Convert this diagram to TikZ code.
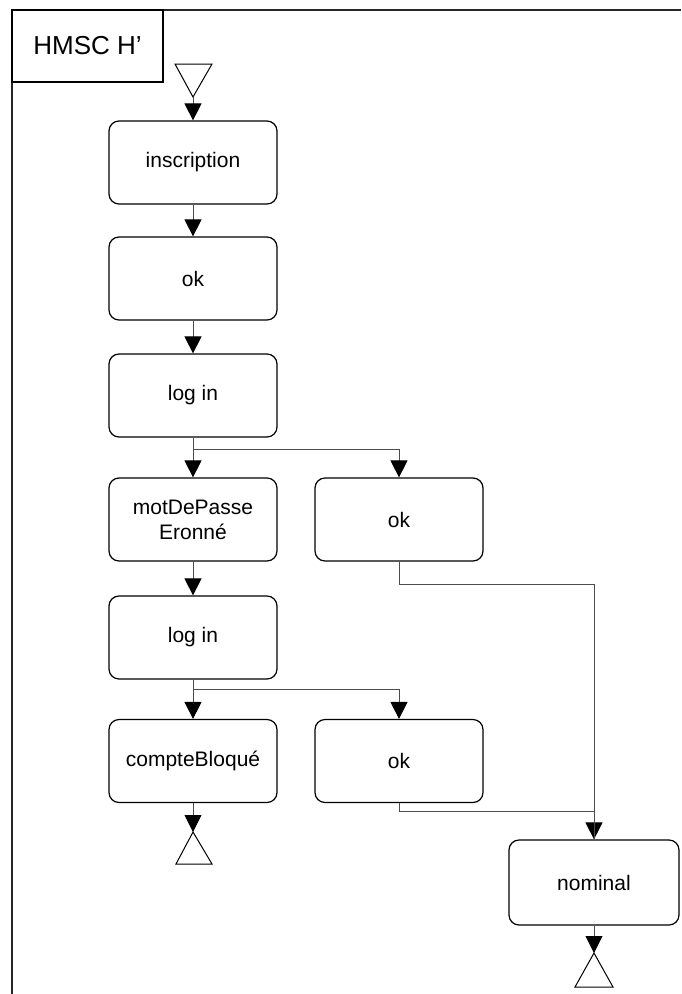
\documentclass[tikz,border=0pt]{standalone}
\usepackage{fontspec}
\setmainfont{Liberation Sans}
\usetikzlibrary{arrows.meta}

\tikzset{
  msc/.style={draw=black, line width=1.2pt, rounded corners=10pt, minimum width=168pt, minimum height=83pt, align=center, font=\fontsize{21}{25}\selectfont},
  conn/.style={draw=black!70, line width=0.9pt},
  tip/.style={conn, -{Triangle[length=17pt,width=17pt,color=black]}}
}

\begin{document}
\begin{tikzpicture}[x=1pt,y=-1pt]
  \useasboundingbox (0,0) rectangle (681,994);
  \draw[line width=1.5pt, black!85] (12,994) -- (12,10) -- (681,10);
  \draw[line width=1.2pt] (12,10) rectangle (163,82);
  \node (title) at (87.5,46) {\fontsize{26}{30}\selectfont HMSC H’};

  \draw[line width=1pt] (175,64) -- (212,64) -- (193,97) -- cycle;
  \coordinate (start) at (193,97);

  \node[msc] (ins) at (193,162.5) {inscription};
  \node[msc] (ok) at (193,278.5) {ok};
  \node[msc] (login) at (193,395.5) {log in};
  \node[msc] (mdp) at (193,519.5) {motDePasse\\Eronné};
  \node[msc] (okA) at (399,519.5) {ok};
  \node[msc] (loginB) at (193,637.5) {log in};
  \node[msc] (bloque) at (193,761) {compteBloqué};
  \node[msc] (okB) at (399,761) {ok};
  \node[msc, minimum width=170pt, minimum height=85pt] (nominal) at (594,882.5) {nominal};

  \coordinate (endA) at (193,832);
  \coordinate (endB) at (594,953);
  \draw[line width=1pt] (endA) -- (212,864) -- (176,864) -- cycle;
  \draw[line width=1pt] (endB) -- (613,987) -- (575,987) -- cycle;

  \draw[tip] (start) -- (ins);
  \draw[tip] (ins) -- (ok);
  \draw[tip] (ok) -- (login);
  \draw[tip] (login) -- (mdp);
  \draw[tip] (login.south) -- ++(0,12) -| (okA.north);
  \draw[tip] (mdp) -- (loginB);
  \draw[tip] (loginB) -- (bloque);
  \draw[tip] (loginB.south) -- ++(0,10) -| (okB.north);
  \draw[tip] (okA.south) -- ++(0,23) -| (nominal.north);
  \draw[conn] (okB.south) -- ++(0,8) -| (nominal.north);
  \draw[tip] (bloque.south) -- (endA);
  \draw[tip] (nominal.south) -- (endB);
\end{tikzpicture}
\end{document}
